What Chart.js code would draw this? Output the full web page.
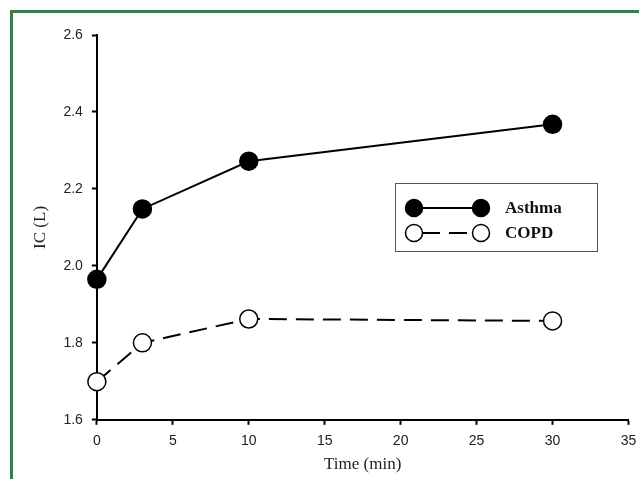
<!DOCTYPE html>
<html>
<head>
<meta charset="utf-8">
<script src="https://cdn.jsdelivr.net/npm/chart.js@4"></script>
<style>
  html, body { margin: 0; padding: 0; background: #fff; }
  #wrap { position: relative; width: 639px; height: 479px; }
  #frame { position: absolute; left: 10px; top: 10px; right: 0; bottom: 0;
           border-left: 3px solid #3b7a4a; border-top: 3px solid #3b7a4a; pointer-events: none; }
</style>
</head>
<body>
<div id="wrap">
  <canvas id="chart" width="639" height="479"></canvas>
  <div id="frame"></div>
</div>
<script>
// Data
const timePoints = [0, 3, 10, 30];
const asthmaValues = [1.965, 2.148, 2.272, 2.368];
const copdValues = [1.699, 1.800, 1.862, 1.857];
const seriesNames = ['Asthma', 'COPD'];
const xTicks = [0, 5, 10, 15, 20, 25, 30, 35];
const yTicks = [1.6, 1.8, 2.0, 2.2, 2.4, 2.6];

// Legend box drawn inside the plot (line with a marker at each end)
const boxLegend = {
    id: 'boxLegend',
    afterDraw(chart) {
        const ctx = chart.ctx;
        const a = chart.chartArea;
        const w = a.right - a.left, h = a.bottom - a.top;
        const x = Math.round(a.left + w * 0.561), y = Math.round(a.top + h * 0.384);
        const bw = 202, bh = 68;
        ctx.save();
        ctx.strokeStyle = '#555';
        ctx.lineWidth = 1;
        ctx.strokeRect(x + 0.5, y + 0.5, bw, bh);
        chart.data.datasets.forEach((ds, i) => {
            const ry = y + 25 + i * 25;
            const x1 = x + 19, x2 = x + 86;
            ctx.strokeStyle = '#000';
            ctx.lineWidth = 2;
            ctx.setLineDash(ds.borderDash || []);
            ctx.lineDashOffset = -8;
            ctx.beginPath();
            ctx.moveTo(x1, ry);
            ctx.lineTo(x2, ry);
            ctx.stroke();
            ctx.setLineDash([]);
            [x1, x2].forEach(px => {
                ctx.beginPath();
                ctx.arc(px, ry, 8.5, 0, Math.PI * 2);
                ctx.fillStyle = ds.pointBackgroundColor;
                ctx.fill();
                ctx.lineWidth = 1.5;
                ctx.stroke();
            });
            ctx.fillStyle = '#111';
            ctx.font = 'bold 17px "Liberation Serif", serif';
            ctx.textBaseline = 'middle';
            ctx.fillText(ds.label, x + 110, ry + 1);
        });
        ctx.restore();
    }
};

new Chart(document.getElementById('chart'), {
    type: 'line',
    data: {
        datasets: [
            {
                label: seriesNames[0],
                data: timePoints.map((t, i) => ({ x: t, y: asthmaValues[i] })),
                borderColor: '#000',
                borderWidth: 2,
                pointRadius: 9,
                pointBackgroundColor: '#000',
                pointBorderColor: '#000',
                pointBorderWidth: 1.5,
                tension: 0,
                clip: false
            },
            {
                label: seriesNames[1],
                data: timePoints.map((t, i) => ({ x: t, y: copdValues[i] })),
                borderColor: '#000',
                borderWidth: 2,
                borderDash: [18, 9],
                pointRadius: 9,
                pointBackgroundColor: '#fff',
                pointBorderColor: '#000',
                pointBorderWidth: 1.5,
                tension: 0,
                clip: false
            }
        ]
    },
    options: {
        responsive: false,
        animation: false,
        layout: { padding: { left: 24, top: 35, right: 0, bottom: 4 } },
        plugins: { legend: { display: false }, tooltip: { enabled: false } },
        scales: {
            x: {
                type: 'linear',
                min: 0, max: 35,
                afterBuildTicks: s => { s.ticks = xTicks.map(v => ({ value: v })); },
                afterFit: s => { s.paddingRight = 7; },
                grid: { drawOnChartArea: false, tickLength: 5, tickColor: '#000', tickWidth: 2 },
                border: { color: '#000', width: 2 },
                ticks: { color: '#222', font: { family: '"Liberation Sans", Arial', size: 14 }, padding: 8 },
                title: { display: true, text: 'Time (min)', color: '#222',
                         font: { family: '"Liberation Serif", serif', size: 17 }, padding: { top: -3, bottom: 0 } }
            },
            y: {
                min: 1.6, max: 2.6,
                afterBuildTicks: s => { s.ticks = yTicks.map(v => ({ value: v })); },
                grid: { drawOnChartArea: false, tickLength: 5, tickColor: '#000', tickWidth: 2 },
                border: { color: '#000', width: 2 },
                ticks: { color: '#222', font: { family: '"Liberation Sans", Arial', size: 14 }, padding: 9,
                         callback: v => v.toFixed(1) },
                title: { display: true, text: 'IC (L)', color: '#222',
                         font: { family: '"Liberation Serif", serif', size: 17 }, padding: { top: 6, bottom: 4 } }
            }
        }
    },
    plugins: [boxLegend]
});
</script>
</body>
</html>
